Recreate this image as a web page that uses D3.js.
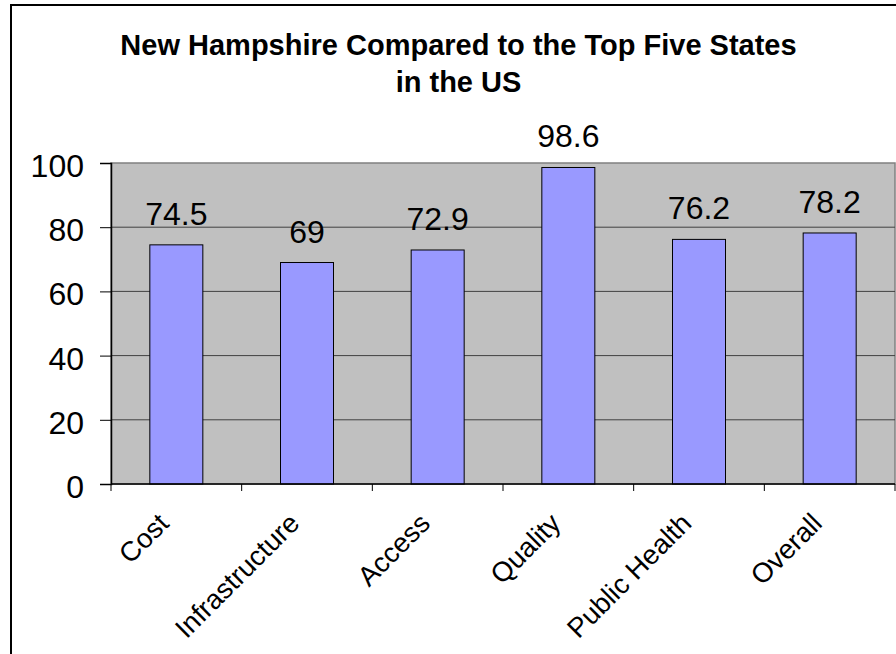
<!DOCTYPE html>
<html>
<head>
<meta charset="utf-8">
<script src="https://cdn.jsdelivr.net/npm/d3@7"></script>
<style>
  html, body { margin: 0; padding: 0; background: #fff; }
  svg { display: block; font-family: "Liberation Sans", Arial, sans-serif; }
</style>
</head>
<body>
<svg id="chart" width="896" height="654"></svg>
<script>
const categories = ["Cost", "Infrastructure", "Access", "Quality", "Public Health", "Overall"];
const values = [74.5, 69, 72.9, 98.6, 76.2, 78.2];
const yTicks = [0, 20, 40, 60, 80, 100];
const titleLines = ["New Hampshire Compared to the Top Five States", "in the US"];

const svg = d3.select("#chart");
const W = 896, H = 654;
const plot = { left: 111, right: 895, top: 163, bottom: 484 };

// outer chart border
svg.append("rect")
  .attr("x", 11).attr("y", 5)
  .attr("width", W + 20).attr("height", H + 20)
  .attr("fill", "#fff").attr("stroke", "#000").attr("stroke-width", 2);

const xBand = d3.scaleBand().domain(categories).range([plot.left, plot.right]).padding(0);
const y = d3.scaleLinear().domain([0, 100]).range([plot.bottom, plot.top]);

// plot area background
svg.append("rect")
  .attr("x", plot.left).attr("y", plot.top)
  .attr("width", plot.right - plot.left).attr("height", plot.bottom - plot.top)
  .attr("fill", "#C0C0C0").attr("stroke", "#808080").attr("stroke-width", 1.5);

// gridlines
svg.append("g").selectAll("line").data(yTicks.filter(d => d > 0 && d < 100)).join("line")
  .attr("x1", plot.left).attr("x2", plot.right)
  .attr("y1", d => y(d)).attr("y2", d => y(d))
  .attr("stroke", "#404040").attr("stroke-width", 1);

// bars
svg.append("g").selectAll("rect").data(values).join("rect")
  .attr("x", (d, i) => xBand(categories[i]) + xBand.bandwidth() / 2 - 26.5)
  .attr("width", 53)
  .attr("y", d => y(d))
  .attr("height", d => y(0) - y(d))
  .attr("fill", "#9999FF").attr("stroke", "#000").attr("stroke-width", 1);

// data labels
svg.append("g").selectAll("text").data(values).join("text")
  .attr("x", (d, i) => xBand(categories[i]) + xBand.bandwidth() / 2)
  .attr("y", d => y(d) - 20)
  .attr("text-anchor", "middle")
  .attr("font-size", 32)
  .attr("fill", "#000")
  .text(d => d);

// y axis
const yAxis = d3.axisLeft(y).tickValues(yTicks).tickSize(11).tickPadding(16);
const gy = svg.append("g").attr("transform", `translate(${plot.left},0)`).call(yAxis);
gy.select(".domain").attr("stroke", "#000").attr("stroke-width", 1.5);
gy.selectAll(".tick line").attr("stroke", "#000");
gy.selectAll(".tick text").attr("font-size", 32).attr("font-family", "Liberation Sans, Arial, sans-serif")
  .attr("fill", "#000").attr("dy", 13.5);

// x axis line + ticks at band boundaries
svg.append("line")
  .attr("x1", plot.left).attr("x2", plot.right)
  .attr("y1", plot.bottom).attr("y2", plot.bottom)
  .attr("stroke", "#000").attr("stroke-width", 1.5);
const boundaries = categories.map(c => xBand(c)).concat([plot.right]);
svg.append("g").selectAll("line").data(boundaries).join("line")
  .attr("x1", d => d).attr("x2", d => d)
  .attr("y1", plot.bottom).attr("y2", plot.bottom + 7)
  .attr("stroke", "#000").attr("stroke-width", 1);

// x labels rotated
svg.append("g").selectAll("text").data(categories).join("text")
  .attr("transform", c => `translate(${xBand(c) + xBand.bandwidth() / 2 - 6},${plot.bottom + 41}) rotate(-45)`)
  .attr("text-anchor", "end")
  .attr("font-size", 27.5)
  .attr("fill", "#000")
  .text(c => c);

// title
svg.append("g").selectAll("text").data(titleLines).join("text")
  .attr("x", 458.5)
  .attr("y", (d, i) => 55 + i * 37)
  .attr("text-anchor", "middle")
  .attr("font-size", 29)
  .attr("font-weight", "bold")
  .attr("fill", "#000")
  .text(d => d);
</script>
</body>
</html>
